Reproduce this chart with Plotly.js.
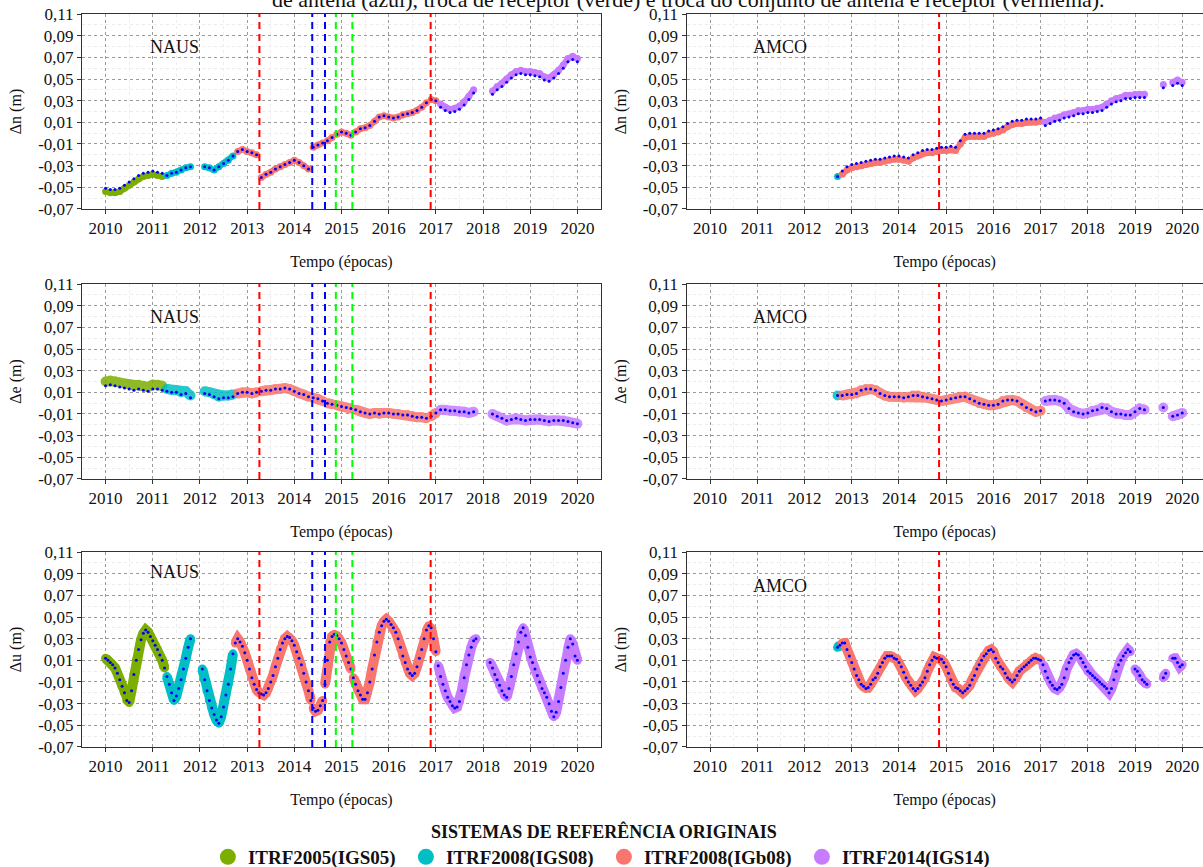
<!DOCTYPE html>
<html>
<head>
<meta charset="utf-8">
<script src="https://cdn.plot.ly/plotly-3.0.1.min.js"></script>
<style>
html,body{margin:0;padding:0;background:#ffffff;}
#chart{width:1203px;height:867px;}
</style>
</head>
<body>
<div id="chart"></div>
<script>
// ---------------- DATA ----------------
const FRAMES = ['ITRF2005(IGS05)', 'ITRF2008(IGS08)', 'ITRF2008(IGb08)', 'ITRF2014(IGS14)'];
const FRAME_COLORS = ['#7CAE00', '#00BFC4', '#F8766D', '#C77CFF'];

// epochs (decimal years) of the sampled solutions
const EPOCHS_10 = [
  2010.0,2010.1,2010.2,2010.3,2010.4,2010.5,2010.6,2010.7,2010.8,2010.9,
  2011.0,2011.1,2011.2,2011.3,2011.4,2011.5,2011.6,2011.7,2011.8,2011.9,
  2012.0,2012.1,2012.2,2012.3,2012.4,2012.5,2012.6,2012.7,2012.8,2012.9,
  2013.0,2013.1,2013.2,2013.3,2013.4,2013.5,2013.6,2013.7,2013.8,2013.9,
  2014.0,2014.1,2014.2,2014.3,2014.4,2014.5,2014.6,2014.7,2014.8,2014.9,
  2015.0,2015.1,2015.2,2015.3,2015.4,2015.5,2015.6,2015.7,2015.8,2015.9,
  2016.0,2016.1,2016.2,2016.3,2016.4,2016.5,2016.6,2016.7,2016.8,2016.9,
  2017.0,2017.1,2017.2,2017.3,2017.4,2017.5,2017.6,2017.7,2017.8,2017.9,
  2018.0,2018.1,2018.2,2018.3,2018.4,2018.5,2018.6,2018.7,2018.8,2018.9,
  2019.0,2019.1,2019.2,2019.3,2019.4,2019.5,2019.6,2019.7,2019.8,2019.9,
  2020.0
];
const EPOCHS_05 = [
  2010.00,2010.05,2010.10,2010.15,2010.20,2010.25,2010.30,2010.35,2010.40,2010.45,2010.50,2010.55,2010.60,2010.65,2010.70,2010.75,2010.80,2010.85,2010.90,2010.95,
  2011.00,2011.05,2011.10,2011.15,2011.20,2011.25,2011.30,2011.35,2011.40,2011.45,2011.50,2011.55,2011.60,2011.65,2011.70,2011.75,2011.80,2011.85,2011.90,2011.95,
  2012.00,2012.05,2012.10,2012.15,2012.20,2012.25,2012.30,2012.35,2012.40,2012.45,2012.50,2012.55,2012.60,2012.65,2012.70,2012.75,2012.80,2012.85,2012.90,2012.95,
  2013.00,2013.05,2013.10,2013.15,2013.20,2013.25,2013.30,2013.35,2013.40,2013.45,2013.50,2013.55,2013.60,2013.65,2013.70,2013.75,2013.80,2013.85,2013.90,2013.95,
  2014.00,2014.05,2014.10,2014.15,2014.20,2014.25,2014.30,2014.35,2014.40,2014.45,2014.50,2014.55,2014.60,2014.65,2014.70,2014.75,2014.80,2014.85,2014.90,2014.95,
  2015.00,2015.05,2015.10,2015.15,2015.20,2015.25,2015.30,2015.35,2015.40,2015.45,2015.50,2015.55,2015.60,2015.65,2015.70,2015.75,2015.80,2015.85,2015.90,2015.95,
  2016.00,2016.05,2016.10,2016.15,2016.20,2016.25,2016.30,2016.35,2016.40,2016.45,2016.50,2016.55,2016.60,2016.65,2016.70,2016.75,2016.80,2016.85,2016.90,2016.95,
  2017.00,2017.05,2017.10,2017.15,2017.20,2017.25,2017.30,2017.35,2017.40,2017.45,2017.50,2017.55,2017.60,2017.65,2017.70,2017.75,2017.80,2017.85,2017.90,2017.95,
  2018.00,2018.05,2018.10,2018.15,2018.20,2018.25,2018.30,2018.35,2018.40,2018.45,2018.50,2018.55,2018.60,2018.65,2018.70,2018.75,2018.80,2018.85,2018.90,2018.95,
  2019.00,2019.05,2019.10,2019.15,2019.20,2019.25,2019.30,2019.35,2019.40,2019.45,2019.50,2019.55,2019.60,2019.65,2019.70,2019.75,2019.80,2019.85,2019.90,2019.95,
  2020.00
];

// epoch at which each original reference frame starts (null = not used)
const NAUS_FRAME_START = [2009.9, 2011.27, 2012.74, 2017.02];
const AMCO_FRAME_START = [null, 2012.65, 2012.77, 2017.02];

// NAUS series (m)
const NAUS_N = [
  -0.054,-0.055,-0.055,-0.054,-0.051,-0.048,-0.045,-0.042,-0.040,-0.039,
  -0.038,-0.039,-0.040,-0.039,-0.037,-0.036,-0.034,-0.032,-0.031,null,
  null,-0.031,-0.032,-0.034,-0.031,-0.028,-0.025,-0.021,-0.017,-0.015,
  -0.017,-0.018,-0.020,-0.041,-0.038,-0.036,-0.033,-0.031,-0.029,-0.027,
  -0.025,-0.027,-0.030,-0.033,-0.013,-0.011,-0.009,-0.007,-0.004,-0.001,
  0.001,0.000,-0.002,0.001,0.004,0.005,0.007,0.011,0.015,0.016,
  0.015,0.014,0.015,0.017,0.018,0.019,0.021,0.024,0.028,0.031,
  0.030,0.027,0.024,0.022,0.023,0.025,0.029,0.034,0.040,null,
  null,null,0.039,0.043,0.046,0.050,0.054,0.057,0.058,0.057,
  0.057,0.056,0.055,0.052,0.051,0.054,0.058,0.063,0.069,0.071,
  0.069
];
const NAUS_E = [
  0.020,0.021,0.020,0.019,0.018,0.017,0.016,0.017,0.016,0.015,
  0.017,0.017,0.016,0.013,0.012,0.012,0.010,0.011,0.007,null,
  null,0.011,0.010,0.008,0.006,0.007,0.007,0.008,0.009,0.010,
  0.010,0.009,0.010,0.011,0.012,0.012,0.013,0.013,0.014,0.013,
  0.011,0.009,0.008,0.006,0.005,0.004,0.002,0.000,-0.001,-0.002,
  -0.003,-0.004,-0.005,-0.006,-0.008,-0.009,-0.010,-0.009,-0.010,-0.009,
  -0.009,-0.010,-0.010,-0.011,-0.011,-0.012,-0.013,-0.013,-0.014,-0.012,
  -0.009,-0.006,-0.006,-0.007,-0.007,-0.008,-0.008,-0.009,-0.008,null,
  null,null,-0.010,-0.012,-0.014,-0.016,-0.015,-0.014,-0.015,-0.016,
  -0.015,-0.015,-0.015,-0.016,-0.017,-0.016,-0.016,-0.016,-0.017,-0.018,
  -0.019
];
const NAUS_U = [
  0.012,0.010,0.008,0.006,0.003,-0.002,-0.008,-0.014,-0.020,-0.027,-0.029,-0.018,-0.003,0.010,0.020,0.029,0.035,0.038,0.036,0.032,
  0.028,0.024,0.020,0.015,0.010,0.003,-0.005,-0.012,-0.020,-0.027,-0.023,-0.016,-0.008,0.002,0.012,0.022,0.030,null,null,null,
  null,0.002,-0.008,-0.018,-0.027,-0.034,-0.040,-0.045,-0.048,-0.042,-0.033,-0.022,-0.012,0.002,0.016,0.026,0.030,0.027,0.023,0.017,
  0.010,0.002,-0.006,-0.012,-0.017,-0.020,-0.021,-0.022,-0.020,-0.016,-0.010,-0.004,0.004,0.012,0.020,0.026,0.030,0.032,0.031,0.028,
  0.024,0.018,0.012,0.006,-0.002,-0.010,-0.018,-0.027,-0.034,-0.037,-0.036,-0.032,-0.027,-0.012,0.010,0.027,0.032,0.034,0.033,0.030,
  0.026,0.020,0.014,0.008,0.002,-0.006,-0.012,-0.018,-0.022,-0.026,-0.026,-0.020,-0.010,0.002,0.015,0.027,0.036,0.042,0.046,0.048,
  0.046,0.043,0.040,0.036,0.030,0.022,0.014,0.008,0.002,-0.002,-0.004,-0.002,0.004,0.012,0.020,0.030,0.038,0.042,0.040,0.030,
  0.018,0.005,-0.005,-0.012,-0.018,-0.024,-0.028,-0.032,-0.034,-0.033,-0.028,-0.018,-0.006,0.006,0.015,0.022,0.028,0.030,null,null,
  null,null,null,0.008,0.003,-0.003,-0.008,-0.013,-0.018,-0.022,-0.024,-0.016,-0.005,0.006,0.016,0.027,0.036,0.040,0.033,0.022,
  0.013,0.008,0.002,-0.004,-0.010,-0.016,-0.020,-0.024,-0.030,-0.037,-0.042,-0.038,-0.028,-0.015,-0.002,0.010,0.022,0.030,0.025,0.014,
  0.010
];

// AMCO series (m)
const AMCO_N = [
  null,null,null,null,null,null,null,null,null,null,
  null,null,null,null,null,null,null,null,null,null,
  null,null,null,null,null,null,null,-0.040,-0.038,-0.034,
  -0.032,-0.031,-0.030,-0.029,-0.028,-0.027,-0.027,-0.026,-0.025,-0.024,
  -0.024,-0.025,-0.026,-0.023,-0.021,-0.019,-0.018,-0.018,-0.017,-0.016,
  -0.016,-0.015,-0.016,-0.010,-0.004,-0.003,-0.003,-0.003,-0.003,-0.001,
  0.000,0.001,0.003,0.006,0.008,0.009,0.009,0.010,0.010,0.010,
  0.011,0.010,0.012,0.014,0.015,0.017,0.018,0.019,0.021,0.021,
  0.022,0.022,0.023,0.024,0.027,0.030,0.032,0.033,0.035,0.035,
  0.036,0.036,0.036,null,null,null,0.045,null,0.047,0.049,
  0.047
];
const AMCO_E = [
  null,null,null,null,null,null,null,null,null,null,
  null,null,null,null,null,null,null,null,null,null,
  null,null,null,null,null,null,null,0.007,0.007,0.008,
  0.008,0.009,0.012,0.013,0.013,0.012,0.009,0.007,0.006,0.006,
  0.006,0.005,0.006,0.007,0.007,0.006,0.005,0.004,0.003,0.002,
  0.003,0.004,0.005,0.006,0.006,0.004,0.002,0.000,-0.001,-0.002,
  -0.002,-0.001,0.002,0.003,0.003,0.002,-0.001,-0.004,-0.006,-0.008,
  -0.007,0.002,0.003,0.003,0.002,0.000,-0.005,-0.008,-0.009,-0.010,
  -0.009,-0.007,-0.006,-0.004,-0.005,-0.008,-0.010,-0.010,-0.011,-0.011,
  -0.008,-0.005,-0.006,null,null,null,-0.004,null,-0.012,-0.011,
  -0.009
];
const AMCO_U = [
  null,null,null,null,null,null,null,null,null,null,null,null,null,null,null,null,null,null,null,null,
  null,null,null,null,null,null,null,null,null,null,null,null,null,null,null,null,null,null,null,null,
  null,null,null,null,null,null,null,null,null,null,null,null,null,null,0.022,0.024,0.026,0.026,0.020,0.014,
  0.008,0.002,-0.004,-0.008,-0.012,-0.014,-0.016,-0.015,-0.012,-0.008,-0.006,-0.002,0.004,0.008,0.012,0.014,0.014,0.014,0.012,0.011,
  0.008,0.004,-0.001,-0.006,-0.010,-0.013,-0.016,-0.018,-0.016,-0.013,-0.010,-0.006,0.000,0.006,0.010,0.013,0.012,0.012,0.011,0.008,
  0.004,-0.002,-0.008,-0.012,-0.015,-0.016,-0.018,-0.020,-0.018,-0.016,-0.013,-0.008,-0.004,0.002,0.006,0.010,0.014,0.016,0.019,0.020,
  0.018,0.012,0.008,0.004,0.002,-0.002,-0.006,-0.008,-0.010,-0.008,-0.004,0.000,0.002,0.004,0.006,0.008,0.010,0.012,0.012,0.011,
  0.010,0.006,0.000,-0.006,-0.010,-0.013,-0.016,-0.017,-0.015,-0.012,-0.006,0.002,0.008,0.012,0.015,0.016,0.015,0.012,0.008,0.004,
  0.000,-0.002,-0.004,-0.006,-0.008,-0.010,-0.012,-0.014,-0.016,-0.020,-0.016,-0.008,0.000,0.006,0.010,0.014,0.017,0.020,0.018,null,
  0.002,0.000,-0.004,-0.008,-0.010,-0.012,null,null,null,null,null,null,-0.006,-0.002,null,null,0.012,0.012,0.008,0.004,
  0.006
];

// offset of the blue (final frame) series relative to the original-frame series, per frame (m)
const NAUS_N_BLUE_SHIFT = [0.003, 0.000, 0.000, -0.003];
const NAUS_E_BLUE_SHIFT = [-0.004, -0.002, 0.000, 0.000];
const NAUS_U_BLUE_SHIFT = [0.000, 0.000, 0.000, 0.000];
const AMCO_N_BLUE_SHIFT = [0.000, 0.000, 0.003, -0.003];
const AMCO_E_BLUE_SHIFT = [0.000, 0.000, 0.000, 0.000];
const AMCO_U_BLUE_SHIFT = [0.000, 0.000, 0.000, 0.000];

// equipment changes (decimal years)
const NAUS_RED = [2013.26, 2016.89];
const NAUS_BLUE = [2014.38, 2014.65];
const NAUS_GREEN = [2014.88, 2015.23];
const AMCO_RED = [2014.85];

// ticks
const X_TICKS = [2010, 2011, 2012, 2013, 2014, 2015, 2016, 2017, 2018, 2019, 2020];
const X_TICKTEXT = ['2010', '2011', '2012', '2013', '2014', '2015', '2016', '2017', '2018', '2019', '2020'];
const X_MINOR = [2009.5, 2010.5, 2011.5, 2012.5, 2013.5, 2014.5, 2015.5, 2016.5, 2017.5, 2018.5, 2019.5, 2020.5];
const Y_TICKS = [-0.07, -0.05, -0.03, -0.01, 0.01, 0.03, 0.05, 0.07, 0.09, 0.11];
const Y_TICKTEXT = ['-0,07', '-0,05', '-0,03', '-0,01', '0,01', '0,03', '0,05', '0,07', '0,09', '0,11'];
const Y_MINOR = [-0.06, -0.04, -0.02, 0.00, 0.02, 0.04, 0.06, 0.08, 0.10];

// ---------------- BUILD ----------------
const SERIF = '"Liberation Serif", serif';

function frameIndex(t, starts) {
  let k = -1;
  for (let j = 0; j < starts.length; j++) {
    if (starts[j] !== null && t >= starts[j]) k = j;
  }
  return k;
}

// insert a gap (null) wherever an equipment change falls between two epochs
function withBreaks(epochs, y, breaks) {
  const xs = [], ys = [];
  for (let i = 0; i < epochs.length; i++) {
    xs.push(epochs[i]); ys.push(y[i]);
    if (i < epochs.length - 1) {
      breaks.forEach(b => { if (b > epochs[i] && b <= epochs[i + 1]) { xs.push(b); ys.push(null); } });
    }
  }
  return {x: xs, y: ys};
}

function panelTraces(epochs, values, starts, shifts, breaks, xa, ya, st) {
  const out = [];
  for (let f = 0; f < FRAMES.length; f++) {
    const y = values.map((v, i) => (v !== null && frameIndex(epochs[i], starts) === f) ? v : null);
    if (y.every(v => v === null)) continue;
    const xy = withBreaks(epochs, y, breaks);
    out.push({
      type: 'scatter', mode: 'lines+markers', x: xy.x, y: xy.y, xaxis: xa, yaxis: ya,
      name: FRAMES[f], showlegend: false, hoverinfo: 'skip', connectgaps: false,
      opacity: st.op,
      marker: {color: FRAME_COLORS[f], size: st.size},
      line: {color: FRAME_COLORS[f], width: st.lw}
    });
  }
  const yb = values.map((v, i) => v === null ? null : v + shifts[frameIndex(epochs[i], starts)]);
  out.push({
    type: 'scatter', mode: 'markers', x: epochs, y: yb, xaxis: xa, yaxis: ya,
    name: 'série final', showlegend: false, hoverinfo: 'skip',
    marker: {color: '#0000FF', size: st.bsize}
  });
  return out;
}

const ST_N = {size: 7, op: 1, lw: 6, bsize: 3};
const ST_E = {size: 10, op: 0.85, lw: 10, bsize: 3};
const ST_U = {size: 9, op: 1, lw: 10, bsize: 3};

const NAUS_BREAKS = NAUS_RED.concat(NAUS_BLUE, NAUS_GREEN);
const AMCO_BREAKS = AMCO_RED;

let traces = [];
traces = traces.concat(panelTraces(EPOCHS_10, NAUS_N, NAUS_FRAME_START, NAUS_N_BLUE_SHIFT, NAUS_BREAKS, 'x', 'y', ST_N));
traces = traces.concat(panelTraces(EPOCHS_10, AMCO_N, AMCO_FRAME_START, AMCO_N_BLUE_SHIFT, AMCO_BREAKS, 'x2', 'y2', ST_N));
traces = traces.concat(panelTraces(EPOCHS_10, NAUS_E, NAUS_FRAME_START, NAUS_E_BLUE_SHIFT, NAUS_BREAKS, 'x3', 'y3', ST_E));
traces = traces.concat(panelTraces(EPOCHS_10, AMCO_E, AMCO_FRAME_START, AMCO_E_BLUE_SHIFT, AMCO_BREAKS, 'x4', 'y4', ST_E));
traces = traces.concat(panelTraces(EPOCHS_05, NAUS_U, NAUS_FRAME_START, NAUS_U_BLUE_SHIFT, NAUS_BREAKS, 'x5', 'y5', ST_U));
traces = traces.concat(panelTraces(EPOCHS_05, AMCO_U, AMCO_FRAME_START, AMCO_U_BLUE_SHIFT, AMCO_BREAKS, 'x6', 'y6', ST_U));

// legend entries
FRAMES.forEach((f, i) => {
  traces.push({type: 'scatter', mode: 'markers', x: [null], y: [null], xaxis: 'x', yaxis: 'y',
    name: f, showlegend: true, hoverinfo: 'skip', marker: {color: FRAME_COLORS[i], size: 17}});
});

const W = 1203, H = 867;
const COL_X = [[82 / W, 601 / W], [686.5 / W, 1]];
const COL_RANGE = [[2009.5, 2020.5], [2009.5, 2020.44]];
const ROW_Y = [[1 - 209 / H, 1 - 14 / H], [1 - 479 / H, 1 - 284 / H], [1 - 747 / H, 1 - 552 / H]];
const Y_TITLES = ['Δn (m)', 'Δe (m)', 'Δu (m)'];

function xAxis(col, row, n) {
  return {
    domain: COL_X[col], range: COL_RANGE[col], anchor: 'y' + (n === 1 ? '' : n),
    tickmode: 'array', tickvals: X_TICKS, ticktext: X_TICKTEXT,
    ticks: 'outside', ticklen: 4, tickcolor: '#333333', tickwidth: 1,
    showline: true, mirror: true, linecolor: '#333333', linewidth: 1,
    showgrid: true, gridcolor: '#9a9a9a', gridwidth: 1, griddash: '3px,3px', zeroline: false,
    minor: {tickmode: 'array', tickvals: X_MINOR, showgrid: true, gridcolor: '#ececec', gridwidth: 1, ticks: ''},
    tickfont: {family: SERIF, size: 17, color: '#111111'},
    title: {text: 'Tempo (épocas)', font: {family: SERIF, size: 16, color: '#111111'}, standoff: 18},
    fixedrange: true
  };
}
function yAxis(col, row, n) {
  return {
    domain: ROW_Y[row], range: [-0.07005, 0.11005], anchor: 'x' + (n === 1 ? '' : n),
    tickmode: 'array', tickvals: Y_TICKS, ticktext: Y_TICKTEXT,
    ticks: 'outside', ticklen: 4, tickcolor: '#333333', tickwidth: 1,
    showline: true, mirror: true, linecolor: '#333333', linewidth: 1,
    showgrid: true, gridcolor: '#9a9a9a', gridwidth: 1, griddash: '3px,3px', zeroline: false,
    minor: {tickmode: 'array', tickvals: Y_MINOR, showgrid: true, gridcolor: '#ececec', gridwidth: 1, ticks: ''},
    tickfont: {family: SERIF, size: 17, color: '#111111'},
    title: {text: Y_TITLES[row], font: {family: SERIF, size: 16, color: '#111111'}, standoff: 12},
    fixedrange: true
  };
}

const layout = {
  width: W, height: H,
  margin: {l: 0, r: 0, t: 0, b: 0, pad: 0, autoexpand: false},
  paper_bgcolor: '#ffffff', plot_bgcolor: '#ffffff',
  font: {family: SERIF, color: '#111111'},
  showlegend: true,
  legend: {
    orientation: 'h', x: 0.502, xanchor: 'center', y: -0.011, yanchor: 'bottom',
    entrywidth: 153, entrywidthmode: 'pixels',
    font: {family: SERIF, size: 19, color: '#111111', weight: 'bold'},
    title: {text: 'SISTEMAS DE REFERÊNCIA ORIGINAIS', side: 'top center',
            font: {family: SERIF, size: 18, color: '#111111', weight: 'bold'}},
    itemsizing: 'trace', bgcolor: 'rgba(0,0,0,0)'
  },
  shapes: [],
  annotations: []
};

let n = 1;
for (let row = 0; row < 3; row++) {
  for (let col = 0; col < 2; col++) {
    layout['xaxis' + (n === 1 ? '' : n)] = xAxis(col, row, n);
    layout['yaxis' + (n === 1 ? '' : n)] = yAxis(col, row, n);
    n++;
  }
}

function vlines(times, color, n) {
  const xr = 'x' + (n === 1 ? '' : n), yr = 'y' + (n === 1 ? '' : n) + ' domain';
  times.forEach(t => layout.shapes.push({
    type: 'line', xref: xr, yref: yr, x0: t, x1: t, y0: 0, y1: 1, layer: 'above',
    line: {color: color, width: 2, dash: '7px,5px'}
  }));
}
[1, 3, 5].forEach(p => { vlines(NAUS_RED, '#FF0000', p); vlines(NAUS_BLUE, '#0000FF', p); vlines(NAUS_GREEN, '#00FF00', p); });
[2, 4, 6].forEach(p => { vlines(AMCO_RED, '#FF0000', p); });

// station labels
const LABEL_Y = [0.0795, 0.0795, 0.0800, 0.0795, 0.0915, 0.0786];
const LABEL_TEXT = ['NAUS', 'AMCO', 'NAUS', 'AMCO', 'NAUS', 'AMCO'];
for (let p = 1; p <= 6; p++) {
  layout.annotations.push({
    xref: 'x' + (p === 1 ? '' : p), yref: 'y' + (p === 1 ? '' : p),
    x: 2011.47, y: LABEL_Y[p - 1], text: LABEL_TEXT[p - 1], showarrow: false,
    font: {family: SERIF, size: 18, color: '#111111'}
  });
}
// caption (only its lower part is visible at the top edge)
layout.annotations.push({
  xref: 'paper', yref: 'paper', x: 687.5 / W, y: 1 + 1 / H, xanchor: 'center', yanchor: 'middle',
  text: 'de antena (azul), troca de receptor (verde) e troca do conjunto de antena e receptor (vermelha).',
  showarrow: false, font: {family: SERIF, size: 22, color: '#111111'}
});

Plotly.newPlot('chart', traces, layout, {displayModeBar: false, staticPlot: true});
</script>
</body>
</html>
